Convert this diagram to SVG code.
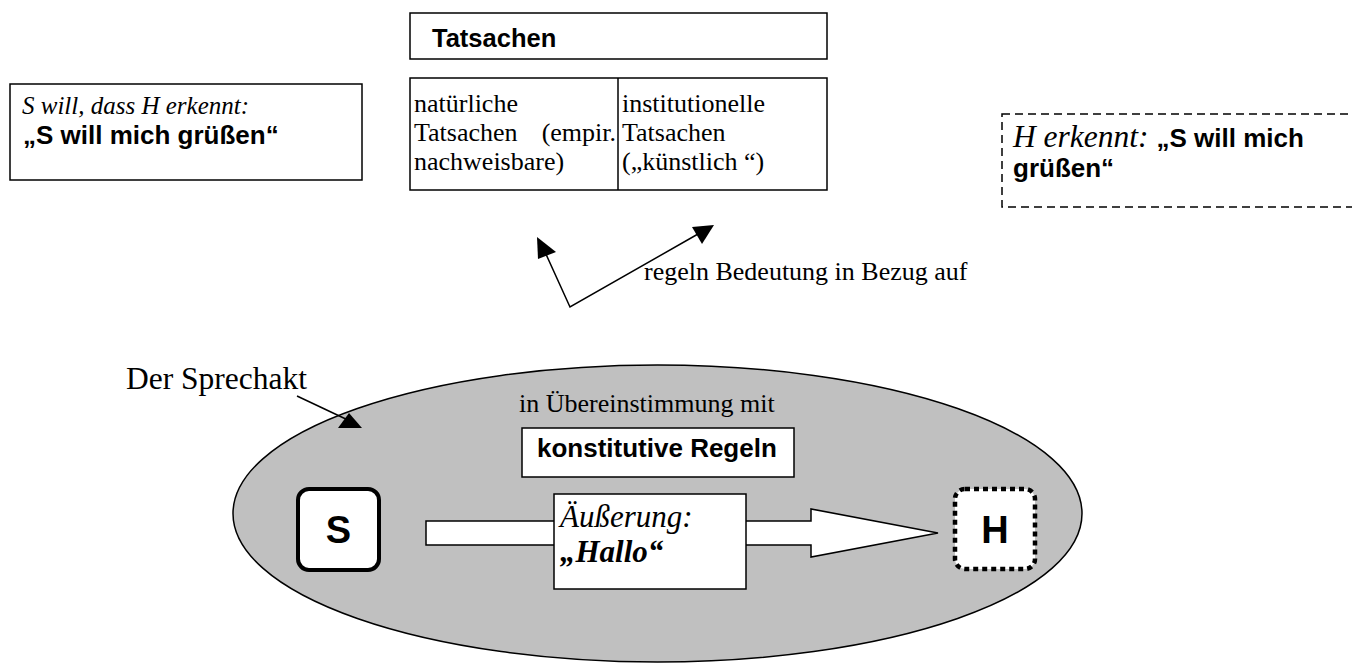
<svg xmlns="http://www.w3.org/2000/svg" width="1352" height="663" viewBox="0 0 1352 663">
<style>
.box{fill:#fff;stroke:#000;stroke-width:1.5}
.serif{font-family:"Liberation Serif","Times New Roman",serif;font-size:26px;fill:#000}
.it{font-style:italic}
.sans{font-family:"Liberation Sans",Arial,sans-serif;font-weight:bold;font-size:26px;fill:#000}
.line{fill:none;stroke:#000;stroke-width:1.5}
.head{fill:#000;stroke:none}
</style>
<rect width="1352" height="663" fill="#fff"/>

<g id="speech-act">
<ellipse cx="657.5" cy="513.5" rx="424.5" ry="148.5" fill="#c0c0c0" stroke="#000" stroke-width="1.5"/>
</g>

<g id="label-sprechakt">
<text class="serif" x="126" y="389" style="font-size:31.5px">Der Sprechakt</text>
</g>

<g id="intention">
<rect class="box" x="10" y="84" width="352" height="96"/>
<text class="serif it" x="22" y="114" style="font-size:25px">S will, dass H erkennt:</text>
<text class="sans" x="23" y="144">„S will mich grüßen“</text>
</g>

<g id="tatsachen">
<rect class="box" x="410" y="13" width="417" height="46"/>
<text class="sans" x="432" y="47" style="font-size:25.5px">Tatsachen</text>
</g>

<g id="tatsachen-table">
<rect class="box" x="410" y="78" width="417" height="112"/>
<line class="line" x1="618" y1="78" x2="618" y2="190"/>
<text class="serif" x="414" y="112">natürliche</text>
<text class="serif" x="414" y="141">Tatsachen</text>
<text class="serif" x="616" y="141" text-anchor="end">(empir.</text>
<text class="serif" x="414" y="170">nachweisbare)</text>
<text class="serif" x="622" y="112">institutionelle</text>
<text class="serif" x="622" y="141">Tatsachen</text>
<text class="serif" x="622" y="170">(„künstlich “)</text>
</g>

<g id="recognition">
<rect x="1002" y="114" width="370" height="93" fill="#fff" stroke="#000" stroke-width="1.5" stroke-dasharray="8 5"/>
<text x="1013" y="147"><tspan class="serif it" style="font-size:31.5px">H erkennt: </tspan><tspan class="sans">„S will mich</tspan></text>
<text class="sans" x="1013" y="177">grüßen“</text>
</g>

<g id="regeln-label">
<text class="serif" x="644" y="280">regeln Bedeutung in Bezug auf</text>
</g>

<g id="in-uebereinstimmung">
<text class="serif" x="519" y="412">in Übereinstimmung mit</text>
</g>

<g id="konstitutive-regeln">
<rect class="box" x="522" y="428" width="272" height="49"/>
<text class="sans" x="537" y="457">konstitutive Regeln</text>
</g>

<g id="connectors">
<line class="line" x1="297" y1="396" x2="350" y2="421"/>
<polygon class="head" points="349,413 338,428 362,428"/>
<polyline class="line" points="545,252 570,307 698,234"/>
<polygon class="head" points="537,237 556,252 538,259"/>
<polygon class="head" points="692,227 714,225 702,244"/>
<polygon points="426,521 811,521 811,509 938,533 811,557 811,545 426,545" fill="#fff" stroke="#000" stroke-width="1.5"/>
</g>

<g id="aeusserung">
<rect class="box" x="554" y="494" width="192" height="95"/>
<text class="serif it" x="560" y="527" style="font-size:31px">Äußerung:</text>
<text class="serif it" x="560" y="562" style="font-size:31px;font-weight:bold">„Hallo“</text>
</g>

<g id="S">
<rect x="298" y="489" width="81" height="81" rx="11" fill="#fff" stroke="#000" stroke-width="4"/>
<text class="sans" x="338.5" y="543" text-anchor="middle" style="font-size:38px">S</text>
</g>

<g id="H">
<rect x="955" y="489" width="80" height="80" rx="10" fill="#fff" stroke="#000" stroke-width="4.5" stroke-dasharray="5 4"/>
<text class="sans" x="995" y="543" text-anchor="middle" style="font-size:38px">H</text>
</g>
</svg>
